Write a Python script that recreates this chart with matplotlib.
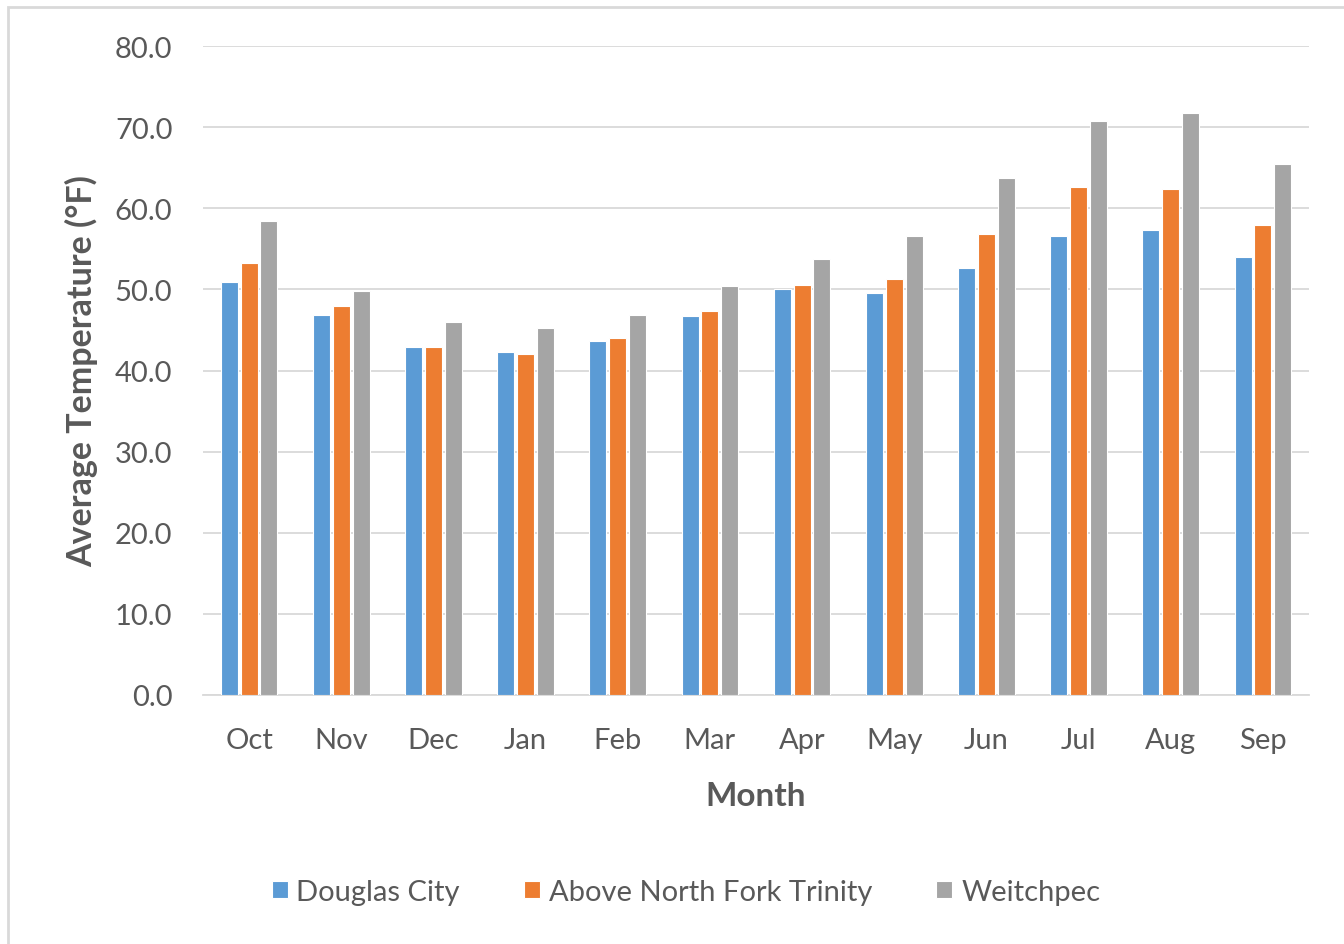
import numpy as np
import matplotlib
matplotlib.use("Agg")
import matplotlib.pyplot as plt
from matplotlib.patches import Rectangle

months = ["Oct", "Nov", "Dec", "Jan", "Feb", "Mar", "Apr", "May", "Jun", "Jul", "Aug", "Sep"]
douglas_city = [50.9, 46.9, 42.9, 42.3, 43.6, 46.7, 50.0, 49.5, 52.6, 56.6, 57.3, 54.0]
above_north_fork = [53.3, 48.0, 42.9, 42.0, 44.0, 47.3, 50.6, 51.3, 56.8, 62.6, 62.4, 57.9]
weitchpec = [58.4, 49.8, 46.0, 45.3, 46.9, 50.4, 53.7, 56.6, 63.7, 70.7, 71.8, 65.4]
series_names = ["Douglas City", "Above North Fork Trinity", "Weitchpec"]
yticks = [0, 10, 20, 30, 40, 50, 60, 70, 80]

plt.rcParams['font.family'] = ['Lato', 'DejaVu Sans']
txt = '#595959'
colors = ['#5B9BD5', '#ED7D31', '#A5A5A5']

fig = plt.figure(figsize=(13.44, 9.45), dpi=100)
ax = fig.add_axes([203/1344, 1-696/945, (1309-203)/1344, (696-47)/945])

# outer chart border (right and bottom edges fall outside the image)
fig.patches.append(Rectangle((8/1344, -0.1), 1.0, 1.1-8/945, transform=fig.transFigure,
                             fill=False, edgecolor='#D9D9D9', linewidth=2))

x = np.arange(len(months))
w = 0.185
for i, vals in enumerate([douglas_city, above_north_fork, weitchpec]):
    ax.bar(x + (i-1)*0.215, vals, width=w, color=colors[i], edgecolor='white',
           linewidth=0.8, label=series_names[i], zorder=3)

ax.set_xlim(-0.5, len(months)-0.5)
ax.set_ylim(0, 80)
ax.set_yticks(yticks)
ax.set_yticklabels([f"{v:.1f}" for v in yticks])
ax.set_xticks(x)
ax.set_xticklabels(months)
ax.grid(axis='y', color='#D9D9D9', linewidth=1.3, zorder=0)
for s in ['top', 'right', 'left']:
    ax.spines[s].set_visible(False)
ax.spines['bottom'].set_color('#D9D9D9')
ax.spines['bottom'].set_linewidth(1.3)
ax.tick_params(axis='both', length=0, labelsize=21, labelcolor=txt)
ax.tick_params(axis='x', pad=23)
ax.tick_params(axis='y', pad=22)

ax.set_xlabel("Month", fontsize=24, fontweight='bold', color=txt, labelpad=20)
ax.set_ylabel("Average Temperature (°F)", fontsize=24.5, fontweight='bold', color=txt, labelpad=12)

fig.legend(loc='center', bbox_to_anchor=(686/1344, 1-893/945), ncol=3, frameon=False,
           fontsize=21, labelcolor=txt, handlelength=0.55, handleheight=0.55,
           handletextpad=0.3, columnspacing=2.2)

fig.savefig("out.png", dpi=100)
